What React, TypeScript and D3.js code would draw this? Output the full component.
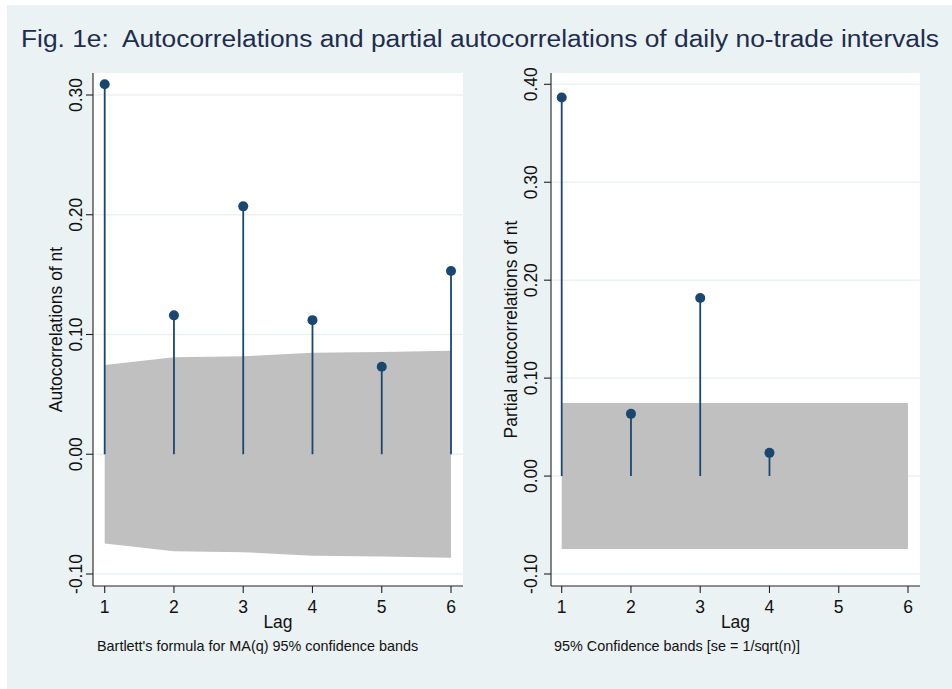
import React from "react";
import * as d3 from "d3";

// ---- data ----
const acLags = [1, 2, 3, 4, 5, 6];
const acValues = [0.309, 0.116, 0.207, 0.112, 0.073, 0.153];
const acBand = [0.0745, 0.081, 0.0818, 0.0848, 0.0853, 0.0864];

const pacLags = [1, 2, 3, 4];
const pacValues = [0.3866, 0.0635, 0.1818, 0.0237];
const pacBandLags = [1, 2, 3, 4, 5, 6];
const pacBand = [0.0746, 0.0746, 0.0746, 0.0746, 0.0746, 0.0746];

const lagTicks = [1, 2, 3, 4, 5, 6];
const acTicks = [-0.1, 0, 0.1, 0.2, 0.3];
const pacTicks = [-0.1, 0, 0.1, 0.2, 0.3, 0.4];

const titleText = "Fig. 1e:  Autocorrelations and partial autocorrelations of daily no-trade intervals";
const acYTitle = "Autocorrelations of nt";
const pacYTitle = "Partial autocorrelations of nt";
const xTitle = "Lag";
const acNote = "Bartlett's formula for MA(q) 95% confidence bands";
const pacNote = "95% Confidence bands [se = 1/sqrt(n)]";

// ---- style ----
const FONT = "'Liberation Sans', Arial, Helvetica, sans-serif";
const BG = "#eaf2f3";
const GRID = "#eaf2f3";
const MARK = "#1a476f";
const BAND = "#c0c0c0";
const AXIS = "#222";

type PanelProps = {
  x0: number; x1: number; y0: number; y1: number;
  xr: [number, number];
  yd: [number, number]; yr: [number, number];
  lags: number[]; values: number[];
  bandLags: number[]; band: number[];
  yTicks: number[];
  yTitle: string; note: string;
  tickLabelX: number; yTitleX: number; noteX: number;
};

function Panel(p: PanelProps) {
  const x = d3.scaleLinear().domain([1, 6]).range(p.xr);
  const y = d3.scaleLinear().domain(p.yd).range(p.yr);
  const fmt = (v: number) => v.toFixed(2);
  const area = d3
    .area<number>()
    .x((_, i) => x(p.bandLags[i]))
    .y0((b) => y(-b))
    .y1((b) => y(b));
  const cy = (p.y0 + p.y1) / 2;
  const cx = (p.x0 + p.x1) / 2;
  return (
    <g>
      <rect x={p.x0} y={p.y0} width={p.x1 - p.x0} height={p.y1 - p.y0} fill="#fff" />
      {p.yTicks.map((t) => (
        <line key={"g" + t} x1={p.x0} x2={p.x1} y1={y(t)} y2={y(t)} stroke={GRID} strokeWidth={1.5} />
      ))}
      <path d={area(p.band) || ""} fill={BAND} />
      {p.lags.map((l, i) => (
        <line key={"s" + l} x1={x(l)} x2={x(l)} y1={y(0)} y2={y(p.values[i])} stroke={MARK} strokeWidth={1.8} />
      ))}
      {p.lags.map((l, i) => (
        <circle key={"c" + l} cx={x(l)} cy={y(p.values[i])} r={5} fill={MARK} />
      ))}
      {/* axes */}
      <line x1={p.x0} x2={p.x0} y1={p.y0} y2={p.y1} stroke={AXIS} strokeWidth={1.1} />
      <line x1={p.x0} x2={p.x1} y1={p.y1} y2={p.y1} stroke={AXIS} strokeWidth={1.1} />
      {p.yTicks.map((t) => (
        <g key={"yt" + t}>
          <line x1={p.x0 - 7} x2={p.x0} y1={y(t)} y2={y(t)} stroke={AXIS} strokeWidth={1.1} />
          <text
            transform={`translate(${p.tickLabelX},${y(t)}) rotate(-90)`}
            textAnchor="middle"
            fontSize={17.5}
            fontFamily={FONT}
            fill="#111"
          >
            {fmt(t)}
          </text>
        </g>
      ))}
      {lagTicks.map((t) => (
        <g key={"xt" + t}>
          <line x1={x(t)} x2={x(t)} y1={p.y1} y2={p.y1 + 7} stroke={AXIS} strokeWidth={1.1} />
          <text x={x(t)} y={613} textAnchor="middle" fontSize={17.5} fontFamily={FONT} fill="#111">
            {t}
          </text>
        </g>
      ))}
      <text
        transform={`translate(${p.yTitleX},${cy}) rotate(-90)`}
        textAnchor="middle"
        fontSize={17.5}
        fontFamily={FONT}
        fill="#111"
      >
        {p.yTitle}
      </text>
      <text x={cx} y={628} textAnchor="middle" fontSize={17.5} fontFamily={FONT} fill="#111">
        {xTitle}
      </text>
      <text x={p.noteX} y={651} fontSize={14.4} fontFamily={FONT} fill="#111">
        {p.note}
      </text>
    </g>
  );
}

export default function App() {
  return (
    <svg
      width={952}
      height={689}
      style={{ position: "fixed", left: 0, top: 0, display: "block" }}
    >
      <rect x={0} y={0} width={952} height={689} fill="#fff" />
      <rect x={7} y={5} width={945} height={684} fill={BG} />
      <text
        x={21}
        y={47}
        fontSize={23}
        fontFamily={FONT}
        fill="#1e2d4f"
        style={{ whiteSpace: "pre" }}
        textLength={918}
        lengthAdjust="spacingAndGlyphs"
      >
        {titleText}
      </text>
      <Panel
        x0={93} x1={463} y0={73} y1={586}
        xr={[104.7, 451]}
        yd={[-0.1, 0.3]} yr={[574, 95]}
        lags={acLags} values={acValues}
        bandLags={acLags} band={acBand}
        yTicks={acTicks}
        yTitle={acYTitle} note={acNote}
        tickLabelX={82} yTitleX={62} noteX={97}
      />
      <Panel
        x0={551} x1={920} y0={73} y1={586}
        xr={[561.7, 908]}
        yd={[-0.1, 0.4]} yr={[574, 84.3]}
        lags={pacLags} values={pacValues}
        bandLags={pacBandLags} band={pacBand}
        yTicks={pacTicks}
        yTitle={pacYTitle} note={pacNote}
        tickLabelX={537} yTitleX={517} noteX={554}
      />
    </svg>
  );
}
